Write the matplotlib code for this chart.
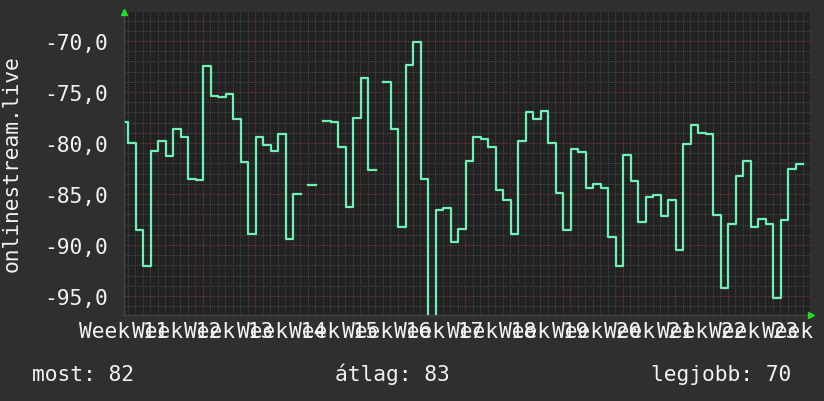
import matplotlib
matplotlib.use("Agg")
import matplotlib.pyplot as plt
from matplotlib.ticker import FuncFormatter
import numpy as np

nan = np.nan

# daily values (dBm)
values = [
    -77.9, -80.0, -88.5, -92.1, -80.75, -79.8, -81.3, -78.6, -79.4, -83.5,
    -83.6, -72.4, -75.4, -75.5, -75.2, -77.6, -81.9, -88.9, -79.4, -80.2,
    -80.75, -79.1, -89.4, -85.0, nan, -84.15, nan, -77.8, -77.9, -80.4,
    -86.25, -77.5, -73.6, -82.6, nan, -74.05, -78.65, -88.2, -72.3, -70.05,
    -83.5, -97.5, -86.6, -86.35, -89.75, -88.4, -81.75, -79.45, -79.65, -80.4,
    -84.65, -85.55, -88.9, -79.75, -77.0, -77.6, -76.9, -80.0, -84.85, -88.5,
    -80.55, -80.85, -84.4, -84.05, -84.45, -89.25, -92.1, -81.15, -83.75, -87.75,
    -85.25, -85.05, -87.2, -85.6, -90.5, -80.05, -78.25, -79.0, -79.1, -87.1,
    -94.25, -87.95, -83.25, -81.8, -88.2, -87.4, -87.9, -95.15, -87.5, -82.5,
    -82.1,
]
week_labels = ["Week %d" % w for w in range(11, 25)]
y_ticks = [-95, -90, -85, -80, -75, -70]
title = "onlinestream.live"
footer = ["most: 82", "átlag: 83", "legjobb: 70"]

BG = "#2f2f2f"
PLOT_BG = "#222222"
LINE = "#70f0b4"
TXT = "#f2f2f2"
MINOR = "#484848"
MAJOR = "#6a2c2c"
FONT = "DejaVu Sans Mono"
FS = 15.3

fig = plt.figure(figsize=(8.24, 4.02), dpi=100, facecolor=BG)
W, H = 824, 402
ax = fig.add_axes([124 / W, (H - 316) / H, 687 / W, (316 - 13) / H])
ax.set_facecolor(PLOT_BG)

# x in days; first sample is a partial day
start = 0.23
first_edge = 0.573
x = [start] + [first_edge + i for i in range(len(values) - 1)]
x.append(first_edge + len(values) - 1)
y = list(values) + [values[-1]]
ax.step(x, y, where="post", color=LINE, lw=1.6, zorder=5)

ax.set_xlim(0, 91.6)
ax.set_ylim(-96.86, -67.15)

# grid: daily / unit minor lines, weekly / 5-unit major lines
days = np.arange(0.5, 91.6, 1.0)
weeks = days[(np.arange(len(days)) - 3) % 7 == 0]
ax.vlines(days, -100, -60, color=MINOR, lw=0.75, ls=(0, (1, 1)), zorder=1)
ax.vlines(weeks, -100, -60, color=MAJOR, lw=0.75, ls=(0, (1, 1)), zorder=2)
ax.hlines(np.arange(-96, -67, 1.0), 0, 92, color=MINOR, lw=0.75, ls=(0, (1, 1)), zorder=1)
ax.hlines(y_ticks, 0, 92, color=MAJOR, lw=0.75, ls=(0, (1, 1)), zorder=2)

ax.set_yticks(y_ticks)
ax.yaxis.set_major_formatter(FuncFormatter(lambda v, p: ("%.1f" % v).replace(".", ",")))
ax.set_xticks([7 * i for i in range(len(week_labels))])
ax.set_xticklabels(week_labels)
ax.tick_params(axis="both", length=0, colors=TXT, labelsize=FS)
ax.tick_params(axis="y", pad=11.5)
ax.tick_params(axis="x", pad=4)
for lab in ax.get_xticklabels() + ax.get_yticklabels():
    lab.set_fontfamily(FONT)

for s in ["top", "right"]:
    ax.spines[s].set_visible(False)
for s in ["left", "bottom"]:
    ax.spines[s].set_color("#444444")
    ax.spines[s].set_linewidth(1)

# axis arrows
ax.plot([0.0], [1.0], marker="^", color="#22dd22", ms=5, transform=ax.transAxes,
        clip_on=False, zorder=6)
ax.plot([1.0], [0.0], marker=">", color="#22dd22", ms=5, transform=ax.transAxes,
        clip_on=False, zorder=6)

fig.text(12 / W, 1 - 164 / H, title, rotation=90, color=TXT, fontsize=FS,
         family=FONT, ha="center", va="center")
fig.text(32 / W, (H - 381) / H, footer[0], color=TXT, fontsize=FS, family=FONT,
         ha="left", va="baseline")
fig.text(392 / W, (H - 381) / H, footer[1], color=TXT, fontsize=FS, family=FONT,
         ha="center", va="baseline")
fig.text(791 / W, (H - 381) / H, footer[2], color=TXT, fontsize=FS, family=FONT,
         ha="right", va="baseline")

fig.savefig("out.png", dpi=100, facecolor=BG)
